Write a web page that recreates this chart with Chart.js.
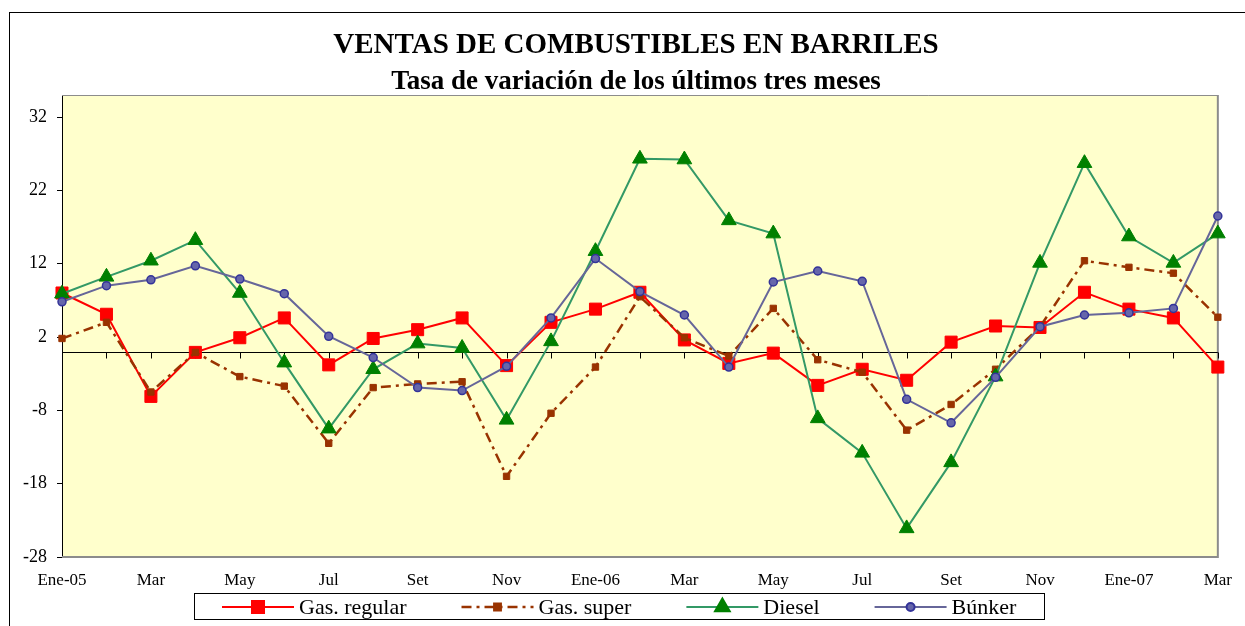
<!DOCTYPE html>
<html>
<head>
<meta charset="utf-8">
<script src="https://cdn.jsdelivr.net/npm/chart.js@4.4.1/dist/chart.umd.min.js"></script>
<style>
  html, body { margin: 0; padding: 0; background: #fff; }
  #wrap { position: relative; width: 1245px; height: 626px; }
</style>
</head>
<body>
<div id="wrap"><canvas id="chart"></canvas></div>
<script>
// Monthly series, Ene-05 .. Mar-07
const months = ['Ene-05', 'Feb', 'Mar', 'Abr', 'May', 'Jun', 'Jul', 'Ago', 'Set', 'Oct', 'Nov', 'Dic',
                'Ene-06', 'Feb', 'Mar', 'Abr', 'May', 'Jun', 'Jul', 'Ago', 'Set', 'Oct', 'Nov', 'Dic',
                'Ene-07', 'Feb', 'Mar'];
const gasRegular = [8.0, 5.1, -6.1, -0.1, 1.9, 4.6, -1.8, 1.8, 3.0, 4.6, -1.9, 4.0, 5.8, 8.1,
                    1.6, -1.6, -0.2, -4.6, -2.4, -3.9, 1.3, 3.5, 3.3, 8.1, 5.8, 4.6, -2.1];
const gasSuper = [1.8, 4.0, -5.5, -0.1, -3.4, -4.7, -12.5, -4.9, -4.4, -4.1, -17.0, -8.4, -2.1, 7.5,
                  1.9, -0.6, 5.9, -1.1, -2.8, -10.7, -7.2, -2.4, 3.4, 12.4, 11.5, 10.7, 4.7];
const diesel = [7.9, 10.2, 12.4, 15.2, 8.0, -1.5, -10.5, -2.4, 1.1, 0.5, -9.3, 1.4, 13.7, 26.3,
                26.2, 17.9, 16.1, -9.1, -13.8, -24.1, -15.1, -3.4, 12.1, 25.7, 15.7, 12.1, 16.1];
const bunker = [6.8, 9.0, 9.8, 11.7, 9.9, 7.9, 2.1, -0.8, -4.9, -5.3, -2.0, 4.6, 12.7, 8.2,
                5.0, -2.1, 9.5, 11.0, 9.6, -6.5, -9.7, -3.5, 3.4, 5.0, 5.3, 5.9, 18.5];
const yTicks = [-28, -18, -8, 2, 12, 22, 32];

const serif = '"Liberation Serif", "Times New Roman", serif';

// frame, plot background, titles
const decorPlugin = {
    id: 'decor',
    beforeDraw(chart) {
        const ctx = chart.ctx;
        const a = chart.chartArea;
        ctx.save();
        ctx.fillStyle = '#fff';
        ctx.fillRect(0, 0, chart.width, chart.height);
        ctx.strokeStyle = '#000';
        ctx.lineWidth = 1;
        ctx.strokeRect(9.5, 12.5, 1400, 800);
        ctx.fillStyle = '#FFFFCC';
        ctx.fillRect(a.left, a.top, a.right - a.left, a.bottom - a.top);

        ctx.fillStyle = '#000';
        ctx.textAlign = 'center';
        ctx.textBaseline = 'middle';
        ctx.font = 'bold 29px ' + serif;
        ctx.fillText('VENTAS DE COMBUSTIBLES EN BARRILES', 636, 46);
        ctx.font = 'bold 27px ' + serif;
        ctx.fillText('Tasa de variación de los últimos tres meses', 636, 82);
        ctx.restore();
    },
    beforeDatasetsDraw(chart) {
        const ctx = chart.ctx;
        const a = chart.chartArea;
        const x = chart.scales.x, y = chart.scales.y;
        ctx.save();
        // plot border (grey, heavier on right/bottom)
        ctx.strokeStyle = '#8c8c8c';
        ctx.lineWidth = 1;
        ctx.beginPath();
        ctx.moveTo(a.left, a.top + 0.5);
        ctx.lineTo(a.right, a.top + 0.5);
        ctx.stroke();
        ctx.lineWidth = 2;
        ctx.beginPath();
        ctx.moveTo(a.right, a.top);
        ctx.lineTo(a.right, a.bottom);
        ctx.lineTo(a.left, a.bottom);
        ctx.stroke();
        // category axis crossing at 0
        const y0 = Math.round(y.getPixelForValue(0)) + 0.5;
        ctx.strokeStyle = '#000';
        ctx.lineWidth = 1;
        ctx.beginPath();
        ctx.moveTo(a.left, y0);
        ctx.lineTo(a.right, y0);
        months.forEach((m, i) => {
            const px = Math.round(x.getPixelForValue(i)) + 0.5;
            ctx.moveTo(px, y0);
            ctx.lineTo(px, y0 + 6);
        });
        ctx.stroke();
        ctx.restore();
    }
};

// boxed legend under the axis
const legendPlugin = {
    id: 'boxLegend',
    afterDraw(chart) {
        const ctx = chart.ctx;
        ctx.save();
        ctx.strokeStyle = '#000';
        ctx.lineWidth = 1;
        ctx.strokeRect(194.5, 593.5, 850, 26);
        ctx.font = '22px ' + serif;
        ctx.textBaseline = 'middle';
        ctx.textAlign = 'left';
        const yc = 607;
        let x = 222;
        chart.data.datasets.forEach(ds => {
            ctx.strokeStyle = ds.borderColor;
            ctx.lineWidth = ds.borderWidth;
            ctx.setLineDash(ds.borderDash || []);
            ctx.beginPath();
            ctx.moveTo(x, yc);
            ctx.lineTo(x + 72, yc);
            ctx.stroke();
            ctx.setLineDash([]);
            ctx.fillStyle = ds.pointBackgroundColor;
            ctx.strokeStyle = ds.pointBorderColor;
            Chart.helpers.drawPoint(ctx, {
                pointStyle: ds.pointStyle,
                radius: ds.pointRadius,
                borderWidth: ds.pointBorderWidth,
                rotation: 0
            }, x + 36, yc);
            ctx.fillStyle = '#000';
            ctx.fillText(ds.label, x + 77, yc + 1);
            x += 77 + ctx.measureText(ds.label).width + 55;
        });
        ctx.restore();
    }
};

new Chart(document.getElementById('chart'), {
    type: 'line',
    data: {
        labels: months,
        datasets: [
            {
                label: 'Gas. regular',
                data: gasRegular,
                order: 4,
                borderColor: '#FF0000',
                borderWidth: 2,
                pointStyle: 'rect',
                pointRadius: 8.5,
                pointBackgroundColor: '#FF0000',
                pointBorderColor: '#FF0000',
                pointBorderWidth: 1
            },
            {
                label: 'Gas. super',
                data: gasSuper,
                order: 3,
                borderColor: '#993300',
                borderWidth: 2.5,
                borderDash: [10, 5, 3, 5],
                pointStyle: 'rect',
                pointRadius: 4.5,
                pointBackgroundColor: '#993300',
                pointBorderColor: '#993300',
                pointBorderWidth: 1
            },
            {
                label: 'Diesel',
                data: diesel,
                order: 2,
                borderColor: '#339966',
                borderWidth: 2,
                pointStyle: 'triangle',
                pointRadius: 8.5,
                pointBackgroundColor: '#008000',
                pointBorderColor: '#008000',
                pointBorderWidth: 1
            },
            {
                label: 'Búnker',
                data: bunker,
                order: 1,
                borderColor: '#666699',
                borderWidth: 2,
                pointStyle: 'circle',
                pointRadius: 4,
                pointBackgroundColor: '#6666AA',
                pointBorderColor: '#333399',
                pointBorderWidth: 1.5
            }
        ]
    },
    options: {
        responsive: true,
        maintainAspectRatio: false,
        animation: false,
        events: [],
        clip: false,
        layout: { padding: { top: 95, left: 9, right: 25, bottom: 0 } },
        elements: { line: { tension: 0 } },
        plugins: {
            legend: { display: false },
            title: { display: false },
            tooltip: { enabled: false }
        },
        scales: {
            x: {
                offset: false,
                grid: { display: false, drawTicks: false },
                border: { display: false },
                ticks: {
                    autoSkip: false,
                    maxRotation: 0,
                    padding: 13,
                    color: '#000',
                    font: { family: serif, size: 17 },
                    callback: (v, i) => (i % 2 === 0 ? months[i] : '')
                },
                afterFit: s => { s.height = 69; }
            },
            y: {
                min: -28,
                max: 35,
                afterBuildTicks: s => { s.ticks = yTicks.map(v => ({ value: v })); },
                afterFit: s => { s.width = 53; },
                grid: { drawOnChartArea: false, drawTicks: true, tickLength: 5, color: '#000' },
                border: { display: true, color: '#000', width: 1 },
                ticks: { padding: 10, color: '#000', font: { family: serif, size: 18 } }
            }
        }
    },
    plugins: [decorPlugin, legendPlugin]
});
</script>
</body>
</html>
